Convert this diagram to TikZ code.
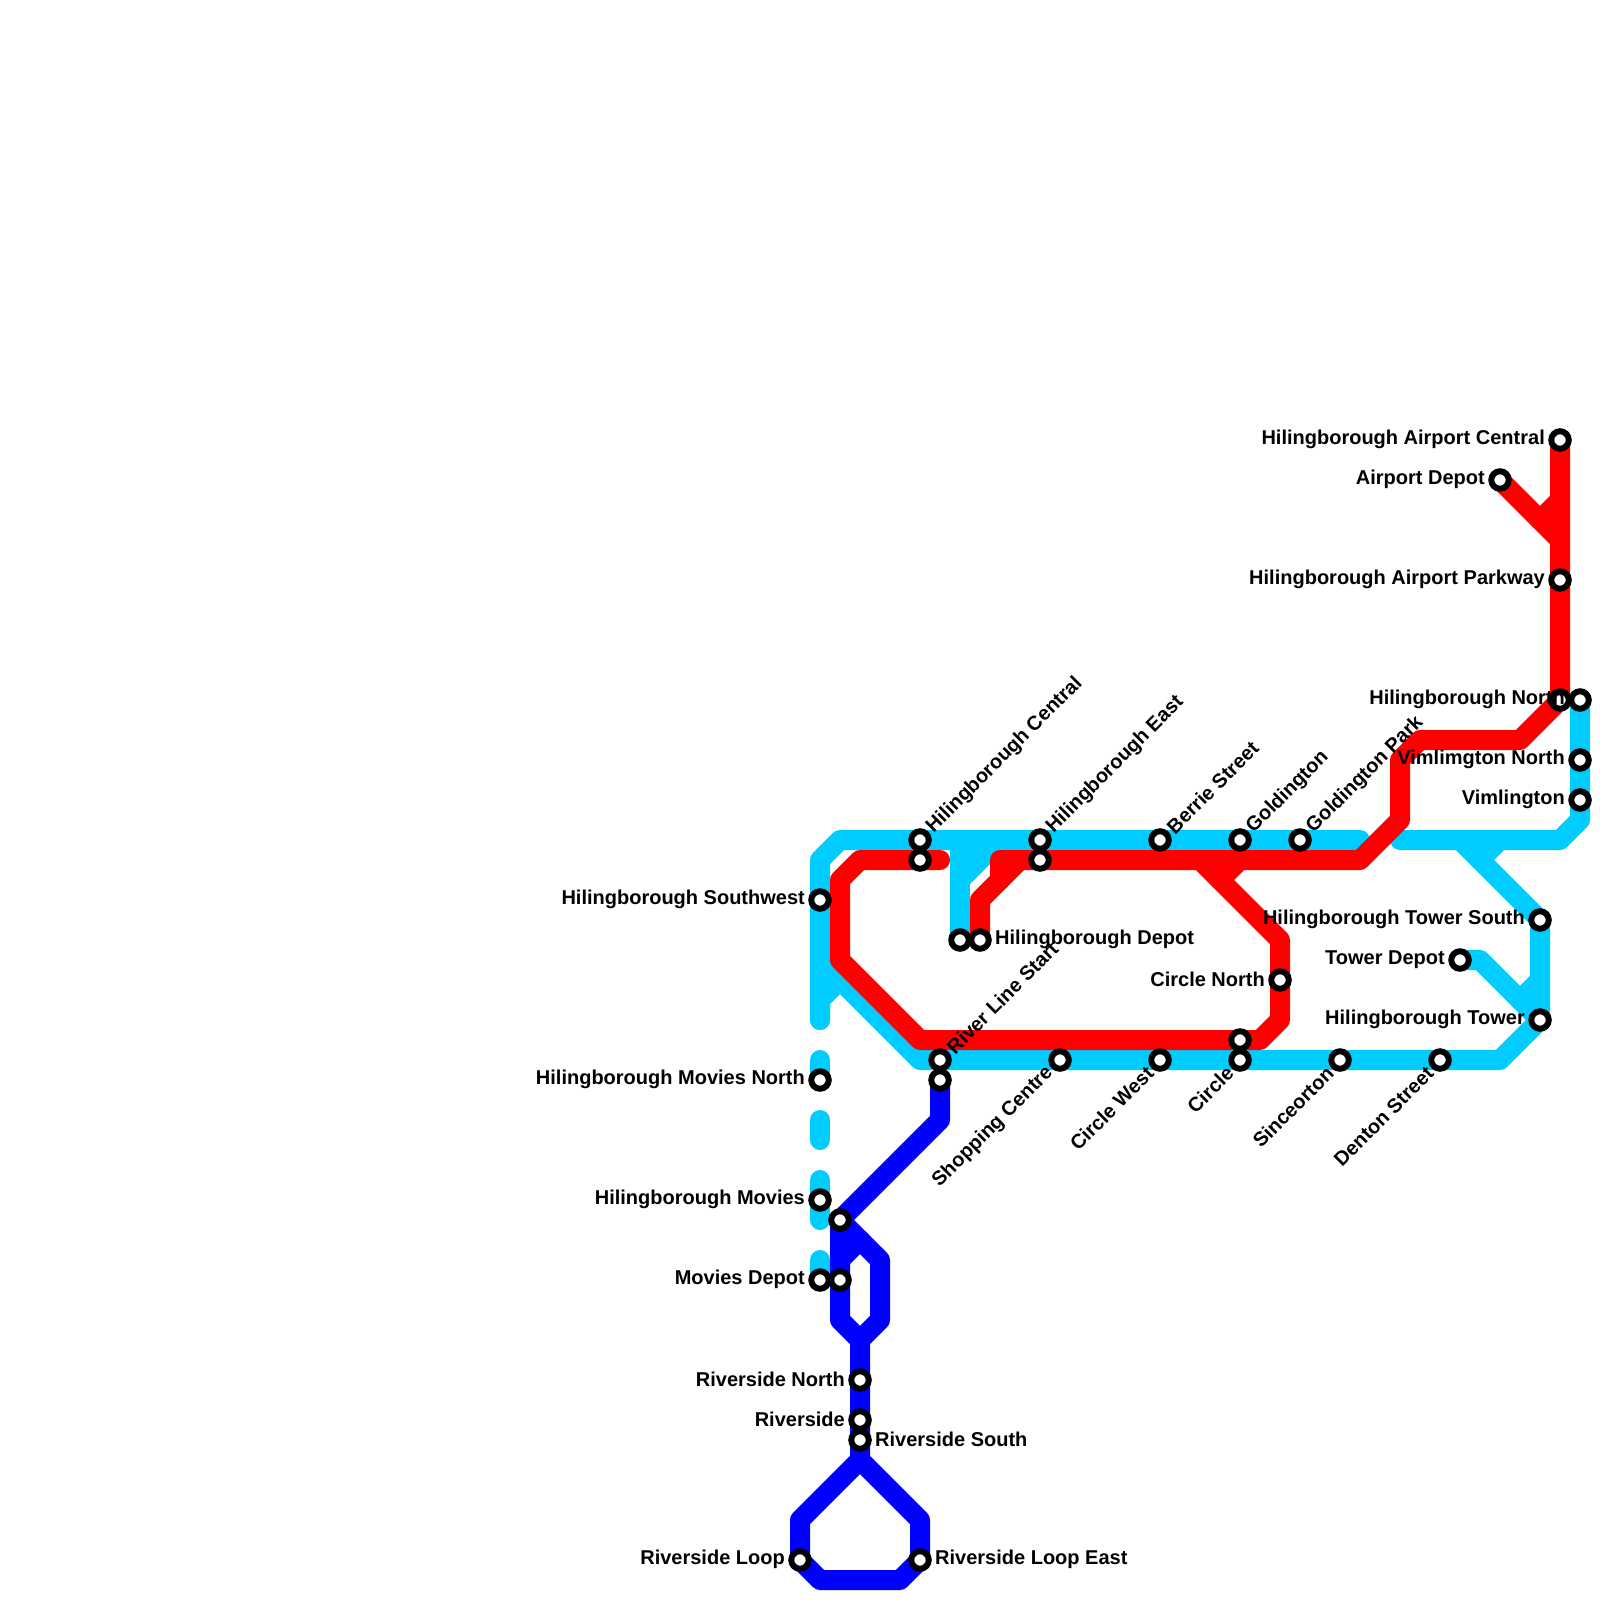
\documentclass[tikz,border=0pt]{standalone}
\usepackage{fontspec}
\setmainfont{Liberation Sans}
\usepackage{xcolor}
\usetikzlibrary{backgrounds}
\definecolor{RiverBlue}{HTML}{0000FF}
\definecolor{CircleCyan}{HTML}{00CCFF}
\definecolor{AirportRed}{HTML}{FF0000}
\tikzset{
  metro/.style={line width=20pt,line cap=round,line join=round},
  stn/.style={circle,draw=black,fill=white,line width=6pt,minimum size=17.5pt,inner sep=0pt},
  lblbase/.style={font=\bfseries\fontsize{20}{22}\selectfont,inner sep=0pt,text=black},
  lblw/.style={lblbase,anchor=east,xshift=-15pt,yshift=0.5pt},
  lble/.style={lblbase,anchor=west,xshift=15pt,yshift=0.5pt},
  lblne/.style={lblbase,rotate=45,anchor=west,xshift=14pt},
  lblsw/.style={lblbase,rotate=45,anchor=east,xshift=-14pt}
}
\begin{document}
\begin{tikzpicture}[x=1pt,y=-1pt]
  \useasboundingbox (0,0) rectangle (1600,1600);
  \foreach \id/\x/\y in {
      hcentral/920/840,hcentralb/920/860,heast/1040/840,heastb/1040/860,
      hdepota/960/940,hdepot/980/940,rstart/940/1060,rstartb/940/1080,
      berrie/1160/840,golding/1240/840,goldpark/1300/840,
      shopping/1060/1060,circlew/1160/1060,circle/1240/1060,circleb/1240/1040,
      sinceorton/1340/1060,denton/1440/1060,circlen/1280/980,
      hsw/820/900,hmoviesn/820/1080,hmovies/820/1200,mdepot/820/1280,
      mdepotb/840/1280,junction/840/1220,
      rivern/860/1380,river/860/1420,rivers/860/1440,
      loop/800/1560,loope/920/1560,
      aircentral/1560/440,airdepot/1500/480,airpark/1560/580,
      hnorthb/1560/700,hnorth/1580/700,vimn/1580/760,vim/1580/800,
      towers/1540/920,towerd/1460/960,tower/1540/1020}{
    \node[stn] (\id) at (\x,\y) {};}
  \foreach \id/\side/\txt in {
      hsw/lblw/Hilingborough Southwest,
      hmoviesn/lblw/Hilingborough Movies North,
      hmovies/lblw/Hilingborough Movies,
      mdepot/lblw/Movies Depot,
      rivern/lblw/Riverside North,
      river/lblw/Riverside,
      rivers/lble/Riverside South,
      loop/lblw/Riverside Loop,
      loope/lble/Riverside Loop East,
      hdepot/lble/Hilingborough Depot,
      hcentral/lblne/Hilingborough Central,
      heast/lblne/Hilingborough East,
      berrie/lblne/Berrie Street,
      golding/lblne/Goldington,
      goldpark/lblne/Goldington Park,
      rstart/lblne/River Line Start,
      shopping/lblsw/Shopping Centre,
      circlew/lblsw/Circle West,
      circle/lblsw/Circle,
      sinceorton/lblsw/Sinceorton,
      denton/lblsw/Denton Street,
      circlen/lblw/Circle North,
      aircentral/lblw/Hilingborough Airport Central,
      airdepot/lblw/Airport Depot,
      airpark/lblw/Hilingborough Airport Parkway,
      hnorth/lblw/Hilingborough North,
      vimn/lblw/Vimlimgton North,
      vim/lblw/Vimlington,
      towers/lblw/Hilingborough Tower South,
      towerd/lblw/Tower Depot,
      tower/lblw/Hilingborough Tower}{
    \node[\side] (\id txt) at (\id) {\txt};}
  \begin{scope}[on background layer]
    \draw[metro,CircleCyan] (820,1020)--(hsw.center)--(820,860)--(840,840)--(1360,840);
    \draw[metro,CircleCyan] (820,1020)--(820,1000)--(840,980);
    \draw[metro,CircleCyan] (820,960)--(920,1060)--(1500,1060)--(tower.center)--(towers.center)--(1460,840);
    \draw[metro,CircleCyan] (1400,840)--(1560,840)--(1580,820)--(hnorth.center);
    \draw[metro,CircleCyan] (hdepota.center)--(960,840);
    \draw[metro,CircleCyan] (960,880)--(1000,840);
    \draw[metro,CircleCyan] (960,860)--(980,840);
    \draw[metro,CircleCyan] (1480,860)--(1500,840);
    \draw[metro,CircleCyan] (towerd.center)--(1480,960)--(tower.center);
    \draw[metro,CircleCyan] (1520,1000)--(1540,980);
    \draw[metro,CircleCyan] (820,1060)--(hmoviesn.center);
    \draw[metro,CircleCyan] (820,1120)--(820,1140);
    \draw[metro,CircleCyan] (820,1180)--(820,1220);
    \draw[metro,CircleCyan] (820,1260)--(mdepot.center);
    \draw[metro,AirportRed] (940,860)--(860,860)--(840,880)--(840,960)--(920,1040)--(1260,1040)--(1280,1020)--(1280,940)--(1200,860);
    \draw[metro,AirportRed] (hdepot.center)--(980,900)--(1020,860);
    \draw[metro,AirportRed] (1000,880)--(1000,860)--(1360,860)--(1400,820)--(1400,760)--(1420,740)--(1520,740)--(hnorthb.center)--(aircentral.center);
    \draw[metro,AirportRed] (1220,880)--(1240,860);
    \draw[metro,AirportRed] (airdepot.center)--(1560,540);
    \draw[metro,AirportRed] (1540,520)--(1560,500);
    \draw[metro,RiverBlue] (rstartb.center)--(940,1120)--(junction.center)--(840,1320)--(860,1340)--(880,1320)--(880,1260)--(junction.center);
    \draw[metro,RiverBlue] (840,1260)--(860,1240);
    \draw[metro,RiverBlue] (860,1340)--(860,1460)--(800,1520)--(loop.center)--(820,1580)--(900,1580)--(loope.center)--(920,1520)--(860,1460);
  \end{scope}
\end{tikzpicture}
\end{document}
